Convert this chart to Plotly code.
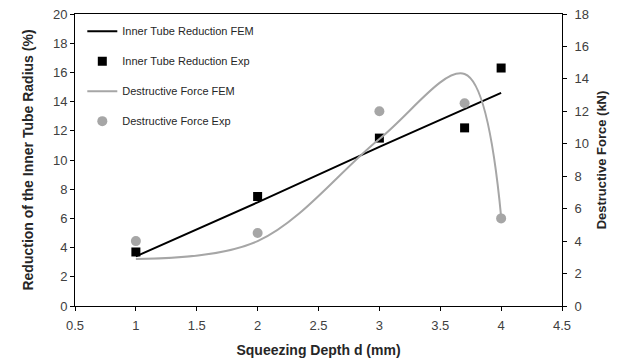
import plotly.graph_objects as go

# Squeezing depth (mm)
depth = [1, 2, 3, 3.7, 4]

# Inner tube radius reduction (%)
reduction_fem = [3.4, 7.1, 10.9, 13.5, 14.6]
reduction_exp = [3.7, 7.5, 11.5, 12.2, 16.3]

# Destructive force (kN)
force_fem = [2.9, 4.0, 10.3, 14.3, 5.5]
force_exp = [4.0, 4.5, 12.0, 12.5, 5.4]

x_ticks = [0.5, 1, 1.5, 2, 2.5, 3, 3.5, 4, 4.5]

FONT = "Liberation Sans, Arial, sans-serif"
GREY = "#a6a6a6"
TICK_COLOR = "#404040"
TITLE_COLOR = "#262626"

fig = go.Figure()

fig.add_trace(go.Scatter(
    x=depth, y=reduction_fem, mode="lines", name="Inner Tube Reduction FEM",
    line=dict(color="black", width=2), legendgroup="a", yaxis="y"))
fig.add_trace(go.Scatter(
    x=depth, y=reduction_exp, mode="markers", name="Inner Tube Reduction Exp",
    marker=dict(symbol="square", color="black", size=9), legendgroup="b", yaxis="y"))
fig.add_trace(go.Scatter(
    x=depth, y=force_fem, mode="lines", name="Destructive Force FEM",
    line=dict(color=GREY, width=2, shape="spline", smoothing=1.0),
    legendgroup="c", yaxis="y2"))
fig.add_trace(go.Scatter(
    x=depth, y=force_exp, mode="markers", name="Destructive Force Exp",
    marker=dict(symbol="circle", color=GREY, size=10), legendgroup="d", yaxis="y2"))

axis_common = dict(
    showgrid=False, zeroline=False, showline=True, linecolor="black", linewidth=1,
    ticks="outside", ticklen=4, tickcolor="black", automargin=False,
    tickfont=dict(family=FONT, size=13, color=TICK_COLOR),
)

fig.update_layout(
    width=619, height=358,
    margin=dict(l=75, r=57, t=14, b=52),
    paper_bgcolor="white", plot_bgcolor="white",
    showlegend=True,
    legend=dict(
        x=0.015, y=0.991, xanchor="left", yanchor="top",
        font=dict(family=FONT, size=11, color=TITLE_COLOR),
        bgcolor="rgba(255,255,255,0)", itemwidth=30, tracegroupgap=11,
    ),
    xaxis=dict(
        range=[0.5, 4.5], tickvals=x_ticks, ticktext=[f"{v:g}" for v in x_ticks],
        mirror=True, ticklabelstandoff=3,
        title=dict(text="<b>Squeezing Depth d (mm)</b>",
                   font=dict(family=FONT, size=14, color=TITLE_COLOR), standoff=14),
        **axis_common,
    ),
    yaxis=dict(
        range=[0, 20], dtick=2,
        title=dict(text="<b>Reduction of the Inner Tube Radius (%)</b>",
                   font=dict(family=FONT, size=14, color=TITLE_COLOR), standoff=16),
        **axis_common,
    ),
    yaxis2=dict(
        range=[0, 18], dtick=2, overlaying="y", side="right", ticklabelstandoff=5,
        title=dict(text="<b>Destructive Force (kN)</b>",
                   font=dict(family=FONT, size=13, color=TITLE_COLOR), standoff=8),
        **axis_common,
    ),
)

fig.write_html("out.html")
